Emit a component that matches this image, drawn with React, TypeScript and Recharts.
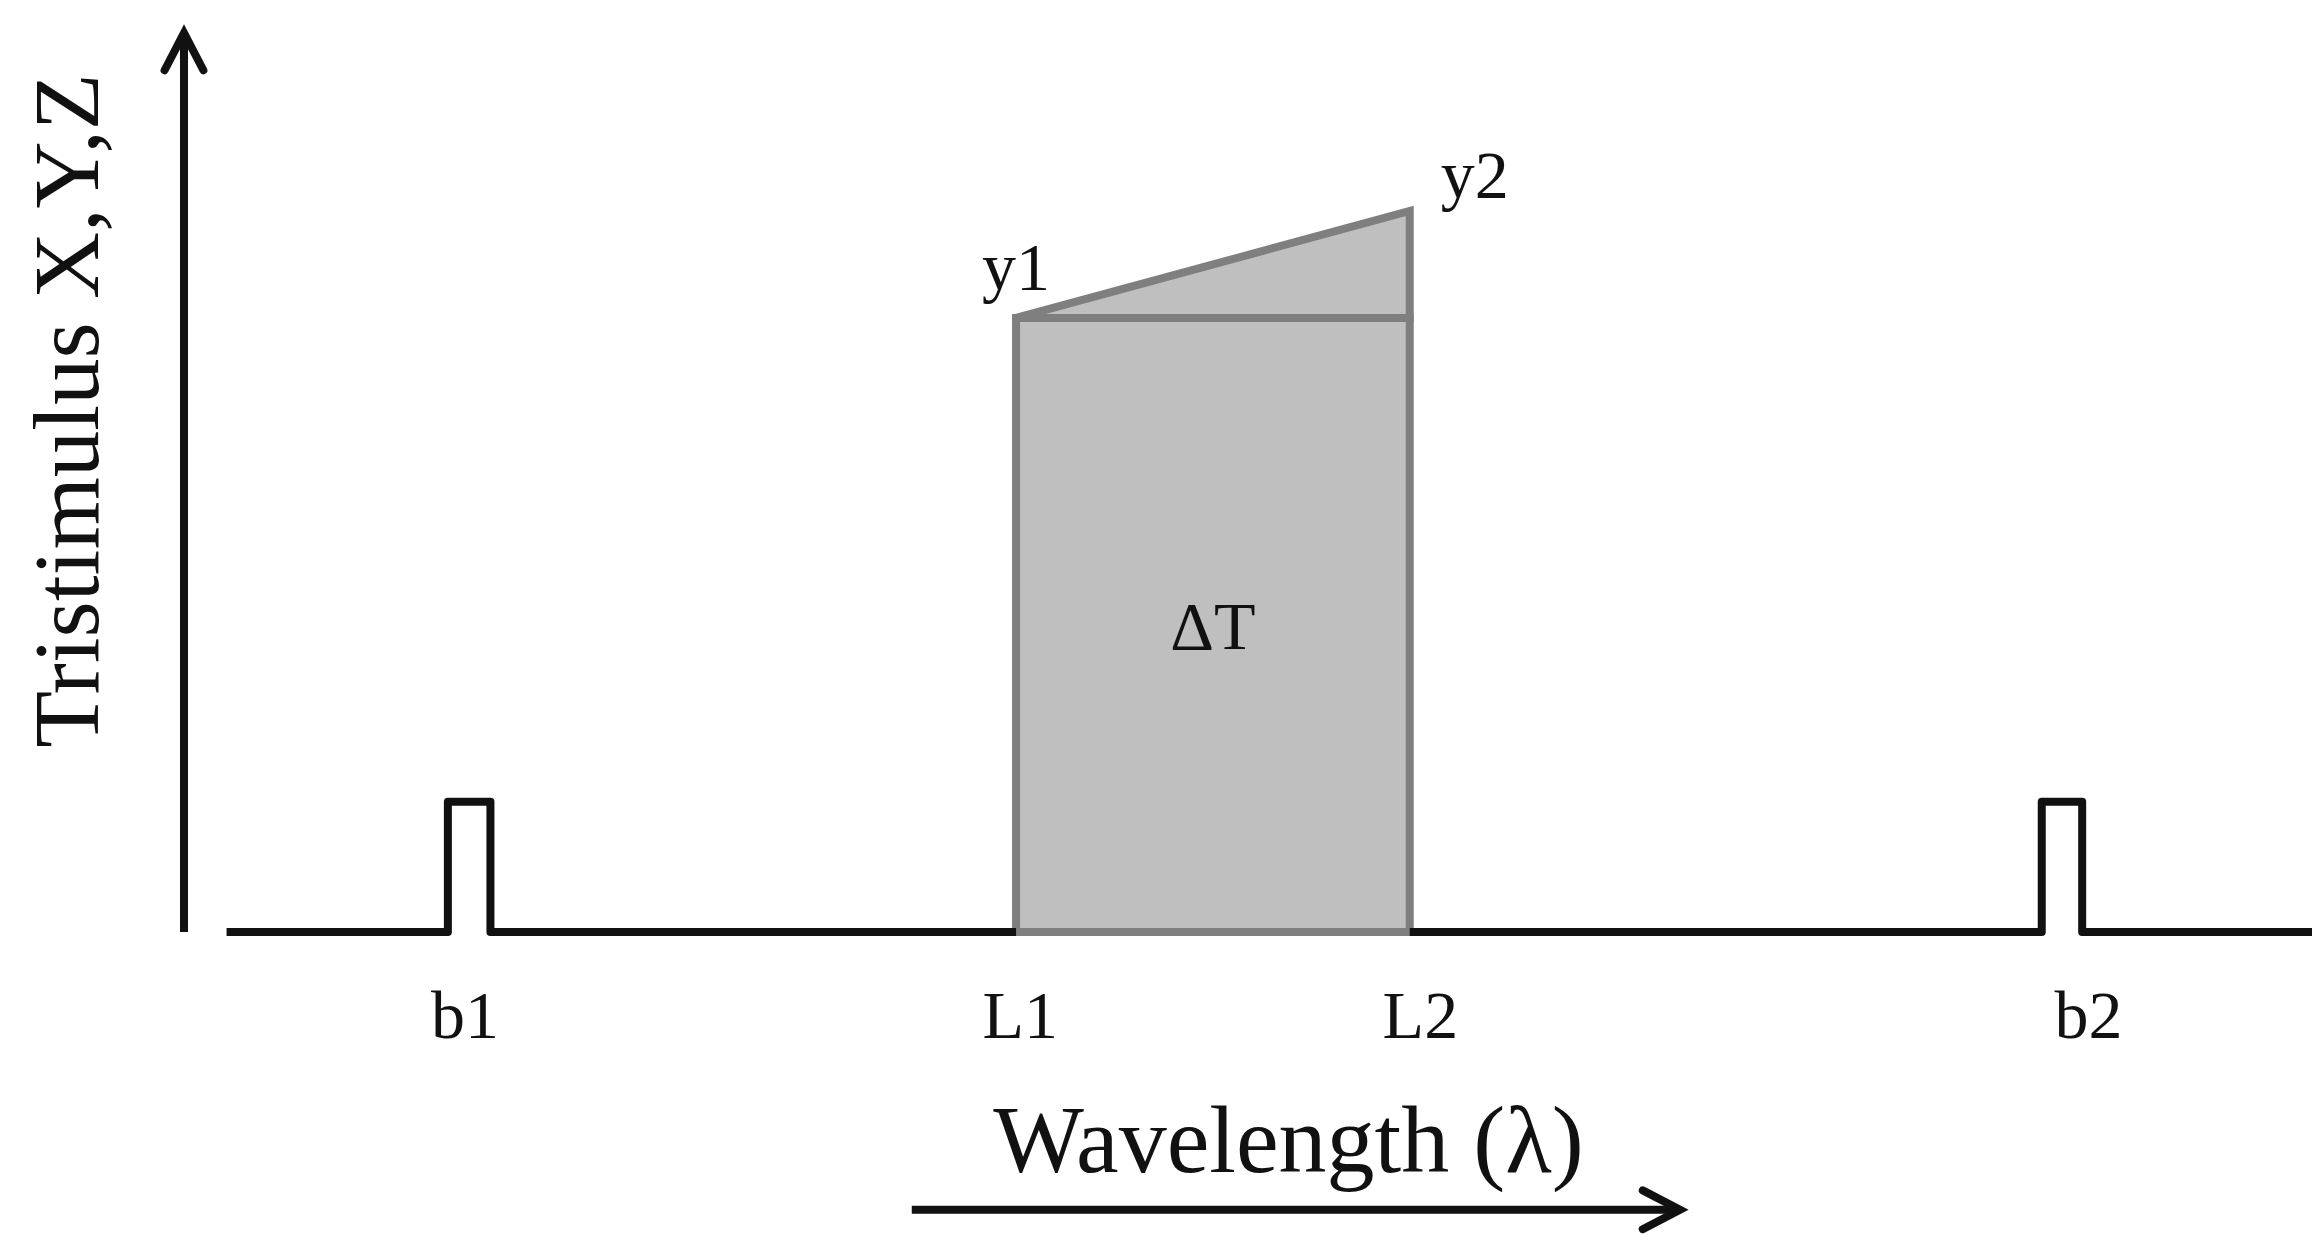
import React from 'react';
import {
  ComposedChart,
  Line,
  Area,
  XAxis,
  YAxis,
  ReferenceArea,
  ReferenceLine,
  ReferenceDot,
  Label,
} from 'recharts';

const FONT = '"Liberation Serif", "Times New Roman", serif';
const INK = '#111111';
const GRAY_FILL = '#bfbfbf';
const GRAY_EDGE = '#7f7f7f';

// wavelength runs 0..100 across the axis, tristimulus 0..100 up the axis
const baselineRange = [2, 100];
const bandB1 = [12.4, 14.4];
const bandB2 = [87.3, 89.2];
const bandLevel = 14.5;
const lambdaL = [39.1, 57.6]; // L1, L2
const tristimY = [68.3, 80.2]; // y1, y2
const tickPositions = [13.2, 39.3, 58.1, 89.5];
const tickLabels = ['b1', 'L1', 'L2', 'b2'];
const cornerLabels = ['y1', 'y2'];
const wavelengthArrow = [34.2, 70.3];
const wavelengthArrowLevel = -30.9;

// black trace: baseline with the two narrow bands, broken under the grey block
const spectrum = [
  { x: baselineRange[0], y: 0 },
  { x: bandB1[0], y: 0 },
  { x: bandB1[0], y: bandLevel },
  { x: bandB1[1], y: bandLevel },
  { x: bandB1[1], y: 0 },
  { x: lambdaL[0], y: 0 },
  { x: (lambdaL[0] + lambdaL[1]) / 2, y: null },
  { x: lambdaL[1], y: 0 },
  { x: bandB2[0], y: 0 },
  { x: bandB2[0], y: bandLevel },
  { x: bandB2[1], y: bandLevel },
  { x: bandB2[1], y: 0 },
  { x: baselineRange[1], y: 0 },
];

const wedgeFill = [
  { x: lambdaL[0], r: [tristimY[0], tristimY[0]] },
  { x: lambdaL[1], r: [tristimY[0], tristimY[1]] },
];

const wedgeEdge = [
  { x: lambdaL[0], y: tristimY[0] },
  { x: lambdaL[1], y: tristimY[1] },
  { x: lambdaL[1], y: tristimY[0] },
  { x: lambdaL[0], y: tristimY[0] },
];

const arrowShape = (props: any) => {
  const { x1, y1, x2, y2 } = props;
  const ang = Math.atan2(y2 - y1, x2 - x1);
  const len = 42;
  const spread = 0.48;
  const w1x = x2 - len * Math.cos(ang - spread);
  const w1y = y2 - len * Math.sin(ang - spread);
  const w2x = x2 - len * Math.cos(ang + spread);
  const w2y = y2 - len * Math.sin(ang + spread);
  return (
    <g>
      <line x1={x1} y1={y1} x2={x2} y2={y2} stroke={INK} strokeWidth={8} />
      <path
        d={`M${w1x},${w1y}L${x2},${y2}L${w2x},${w2y}`}
        fill="none"
        stroke={INK}
        strokeWidth={8}
        strokeLinecap="round"
        strokeLinejoin="miter"
      />
    </g>
  );
};

const YTitle = (props: any) => {
  const vb = props.viewBox || { x: 0, y: 0, width: 0, height: 0 };
  const x = vb.x + 98;
  const y = vb.y + vb.height * 0.42;
  return (
    <text
      x={x}
      y={y}
      transform={`rotate(-90, ${x}, ${y})`}
      textAnchor="middle"
      fontFamily={FONT}
      fontSize={93}
      fill={INK}
    >
      Tristimulus X,Y,Z
    </text>
  );
};

const XTitle = (props: any) => {
  const vb = props.viewBox || { x: 0, y: 0, width: 0, height: 0 };
  return (
    <text
      x={vb.x + vb.width * 0.519}
      y={vb.y + 240}
      textAnchor="middle"
      fontFamily={FONT}
      fontSize={96}
      fill={INK}
    >
      Wavelength (λ)
    </text>
  );
};

const cornerLabel = (i: number) => (props: any) => {
  const vb = props.viewBox || { x: 0, y: 0, width: 0, height: 0 };
  const cx = vb.x + vb.width / 2;
  const cy = vb.y + vb.height / 2;
  return (
    <text
      x={i === 0 ? cx : cx + 31}
      y={i === 0 ? cy - 28 : cy - 13}
      textAnchor={i === 0 ? 'middle' : 'start'}
      fontFamily={FONT}
      fontSize={68}
      fill={INK}
    >
      {cornerLabels[i]}
    </text>
  );
};

export default function App() {
  return (
    <>
      <style>{'body{margin:0;background:#fff}'}</style>
      <ComposedChart
        width={2324}
        height={1250}
        margin={{ top: 33, right: 12, bottom: 0, left: 0 }}
      >
        <XAxis
          type="number"
          dataKey="x"
          domain={[0, 100]}
          ticks={tickPositions}
          interval={0}
          tickFormatter={(v: number) => tickLabels[tickPositions.indexOf(v)] ?? ''}
          axisLine={false}
          tickLine={false}
          tickSize={0}
          tickMargin={58}
          height={318}
          tick={{ fontSize: 68, fontFamily: FONT, fill: INK }}
        >
          <Label content={<XTitle />} />
        </XAxis>
        <YAxis
          type="number"
          domain={[0, 100]}
          width={184}
          axisLine={false}
          tickLine={false}
          tick={false}
        >
          <Label content={<YTitle />} />
        </YAxis>

        <ReferenceArea
          x1={lambdaL[0]}
          x2={lambdaL[1]}
          y1={0}
          y2={tristimY[0]}
          fill={GRAY_FILL}
          fillOpacity={1}
          stroke={GRAY_EDGE}
          strokeWidth={8}
          ifOverflow="visible"
          label={<Label value="ΔT" position="center" fontSize={68} fontFamily={FONT} fill={INK} />}
        />
        <Area
          data={wedgeFill}
          dataKey="r"
          type="linear"
          fill={GRAY_FILL}
          fillOpacity={1}
          stroke="none"
          isAnimationActive={false}
        />
        <Line
          data={wedgeEdge}
          dataKey="y"
          type="linear"
          stroke={GRAY_EDGE}
          strokeWidth={8}
          strokeLinejoin="miter"
          dot={false}
          activeDot={false}
          isAnimationActive={false}
        />
        <Line
          data={spectrum}
          dataKey="y"
          type="linear"
          stroke={INK}
          strokeWidth={8}
          strokeLinejoin="round"
          dot={false}
          activeDot={false}
          connectNulls={false}
          isAnimationActive={false}
        />

        <ReferenceLine
          segment={[{ x: 0, y: 0 }, { x: 0, y: 100 }]}
          ifOverflow="visible"
          shape={arrowShape}
        />
        <ReferenceLine
          segment={[
            { x: wavelengthArrow[0], y: wavelengthArrowLevel },
            { x: wavelengthArrow[1], y: wavelengthArrowLevel },
          ]}
          ifOverflow="visible"
          shape={arrowShape}
        />

        <ReferenceDot
          x={lambdaL[0]}
          y={tristimY[0]}
          r={0}
          fill="none"
          stroke="none"
          ifOverflow="visible"
          label={<Label content={cornerLabel(0)} />}
        />
        <ReferenceDot
          x={lambdaL[1]}
          y={tristimY[1]}
          r={0}
          fill="none"
          stroke="none"
          ifOverflow="visible"
          label={<Label content={cornerLabel(1)} />}
        />
      </ComposedChart>
    </>
  );
}
